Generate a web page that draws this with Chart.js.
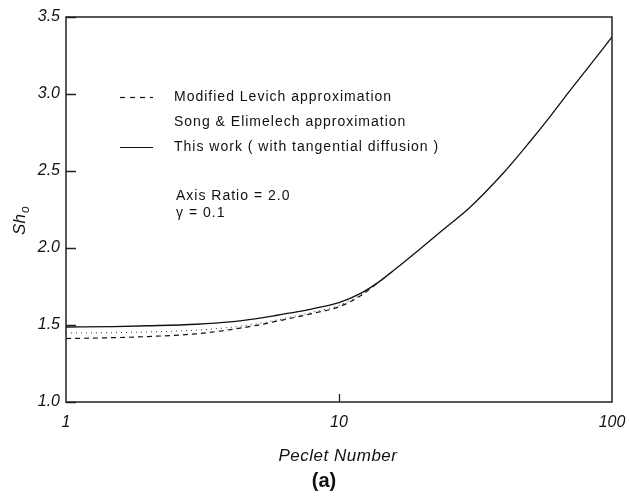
<!DOCTYPE html>
<html>
<head>
<meta charset="utf-8">
<script src="https://cdn.jsdelivr.net/npm/chart.js@4.4.1/dist/chart.umd.min.js"></script>
<style>
  html, body { margin: 0; padding: 0; background: #fff; }
  #wrap { width: 629px; height: 501px; position: relative; }
</style>
</head>
<body>
<div id="wrap"><canvas id="chart" width="629" height="501"></canvas></div>
<script>
// values
var pecletThis = [1, 1.5, 2, 3, 4, 5, 6, 7, 8, 10, 12, 14, 16, 20, 25, 30, 40, 50, 60, 70, 80, 100];
var shThis     = [1.487, 1.490, 1.495, 1.505, 1.520, 1.542, 1.565, 1.585, 1.605, 1.645, 1.705, 1.780, 1.860, 2.000, 2.143, 2.260, 2.487, 2.690, 2.865, 3.020, 3.150, 3.370];

var pecletApprox = [1, 1.5, 2, 3, 4, 5, 6, 7, 8, 10, 12, 14];
var shLevich     = [1.412, 1.418, 1.425, 1.443, 1.470, 1.498, 1.527, 1.552, 1.575, 1.618, 1.690, 1.780];
var shSong       = [1.448, 1.450, 1.455, 1.466, 1.485, 1.508, 1.535, 1.560, 1.583, 1.628, 1.697, 1.780];

var xTickLabels = [1, 10, 100];
var yTicks = [1.0, 1.5, 2.0, 2.5, 3.0, 3.5];

var fontFam = '"Liberation Sans", Arial, Helvetica, sans-serif';

function pts(xs, ys){
	var out = [];
	for(var i = 0; i < xs.length; i++){
		out.push({x: xs[i], y: ys[i]});
	}
	return out;
}

var legendRows = [
	{label: "Modified Levich approximation", dash: [5, 5], width: 1.2},
	{label: "Song & Elimelech approximation", dash: null, width: 0},
	{label: "This work ( with tangential diffusion )", dash: [], width: 1.2}
];

var decorations = {
	id: "decorations",
	afterDraw: function(chart){
		var c = chart.ctx;
		var a = chart.chartArea;
		var xs = chart.scales.x;
		var ys = chart.scales.y;
		c.save();

		// frame
		c.strokeStyle = "#222";
		c.lineWidth = 1.5;
		c.strokeRect(a.left, a.top, a.right - a.left, a.bottom - a.top);

		// inward ticks
		c.lineWidth = 1.3;
		c.beginPath();
		for(var i = 0; i < yTicks.length; i++){
			var py = Math.round(ys.getPixelForValue(yTicks[i])) + 0.5;
			c.moveTo(a.left, py);
			c.lineTo(a.left + 10, py);
		}
		var px = Math.round(xs.getPixelForValue(10)) + 0.5;
		c.moveTo(px, a.bottom);
		c.lineTo(px, a.bottom - 8);
		c.stroke();

		// legend
		c.fillStyle = "#111";
		c.strokeStyle = "#111";
		c.font = "14px " + fontFam;
		c.letterSpacing = "1px";
		c.textBaseline = "middle";
		c.textAlign = "left";
		for(var j = 0; j < legendRows.length; j++){
			var ly = 97 + j * 25;
			var r = legendRows[j];
			if(r.width > 0){
				c.beginPath();
				c.setLineDash(r.dash);
				c.lineWidth = r.width;
				c.moveTo(120, ly + 0.5);
				c.lineTo(153, ly + 0.5);
				c.stroke();
				c.setLineDash([]);
			}
			c.fillText(r.label, 174, ly);
		}

		// parameters
		c.fillText("Axis Ratio = 2.0", 176, 196);
		c.fillText("\u03b3 = 0.1", 176, 213);

		// x title
		c.letterSpacing = "0.5px";
		c.textAlign = "center";
		c.font = "italic 17px " + fontFam;
		c.fillText("Peclet Number", 338, 456);

		// panel label
		c.letterSpacing = "0px";
		c.font = "bold 20px " + fontFam;
		c.fillText("(a)", 324, 481);

		// y title Sh_o
		c.translate(25, 220);
		c.rotate(-Math.PI / 2);
		c.textBaseline = "alphabetic";
		c.font = "italic 17px " + fontFam;
		c.textAlign = "left";
		var w = c.measureText("Sh").width;
		var tw = w + 9;
		c.fillText("Sh", -tw / 2, 0);
		c.font = "italic 12px " + fontFam;
		c.fillText("o", -tw / 2 + w + 1, 4);
		c.restore();
	}
};

var ctx = document.getElementById("chart");

var chart = new Chart(ctx, {
	type: "line",
	data: {
		datasets: [
			{
				label: "Modified Levich approximation",
				data: pts(pecletApprox, shLevich),
				borderColor: "#111",
				borderWidth: 1.2,
				borderDash: [5, 4],
				pointRadius: 0,
				cubicInterpolationMode: "monotone",
				fill: false
			},
			{
				label: "Song & Elimelech approximation",
				data: pts(pecletApprox, shSong),
				borderColor: "#333",
				borderWidth: 1,
				borderDash: [1, 4],
				pointRadius: 0,
				cubicInterpolationMode: "monotone",
				fill: false
			},
			{
				label: "This work ( with tangential diffusion )",
				data: pts(pecletThis, shThis),
				borderColor: "#111",
				borderWidth: 1.3,
				pointRadius: 0,
				cubicInterpolationMode: "monotone",
				fill: false
			}
		]
	},
	options: {
		responsive: false,
		animation: false,
		layout: {
			padding: {left: 0, right: 17, top: 17, bottom: 0}
		},
		plugins: {
			legend: {display: false},
			tooltip: {enabled: false}
		},
		scales: {
			x: {
				type: "logarithmic",
				min: 1,
				max: 100,
				grid: {display: false, drawTicks: false},
				border: {display: false},
				afterFit: function(scale){
					scale.height = 99;
					scale.paddingLeft = 0;
					scale.paddingRight = 0;
				},
				ticks: {
					padding: 11,
					autoSkip: false,
					maxRotation: 0,
					color: "#111",
					font: {family: fontFam, size: 16, style: "italic"},
					callback: function(v){
						return xTickLabels.indexOf(v) >= 0 ? String(v) : "";
					}
				}
			},
			y: {
				min: 1.0,
				max: 3.5,
				grid: {display: false, drawTicks: false},
				border: {display: false},
				afterFit: function(scale){
					scale.width = 66;
					scale.paddingTop = 0;
					scale.paddingBottom = 0;
				},
				ticks: {
					stepSize: 0.5,
					padding: 6,
					color: "#111",
					font: {family: fontFam, size: 16, style: "italic"},
					callback: function(v){ return v.toFixed(1); }
				}
			}
		}
	},
	plugins: [decorations]
});
</script>
</body>
</html>
